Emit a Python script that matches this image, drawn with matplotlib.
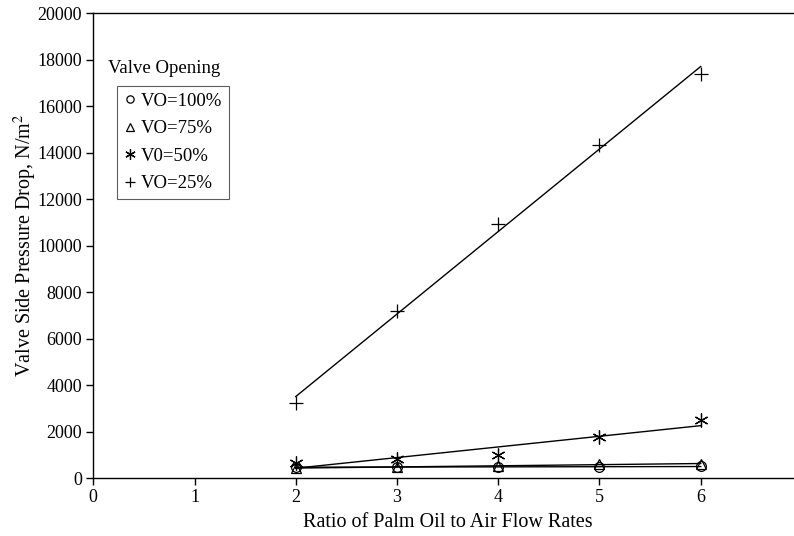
import matplotlib.pyplot as plt
import numpy as np

# Valve side pressure drop (N/m^2) against palm oil / air flow rate ratio
ratio = [2, 3, 4, 5, 6]
vo_100 = [470, 480, 480, 490, 500]
vo_75 = [430, 480, 530, 590, 620]
vo_50 = [650, 830, 1000, 1750, 2480]
vo_25 = [3215, 7190, 10930, 14330, 17400]

labels = ['VO=100%', 'VO=75%', 'V0=50%', 'VO=25%']
markers = ['o', '^', (6, 2, 0), '+']
sizes = [7, 7, 10, 10]

plt.rcParams['font.family'] = ['Liberation Serif', 'DejaVu Serif']
plt.rcParams['mathtext.fontset'] = 'stix'
plt.rcParams['font.size'] = 13

fig = plt.figure(figsize=(7.94, 5.36), dpi=100)
ax = fig.add_axes([0.1175, 0.108, 0.8925, 0.867])

series = [vo_100, vo_75, vo_50, vo_25]
x = np.array(ratio, dtype=float)
handles = []
for vals, mk, ms, lab in zip(series, markers, sizes, labels):
    # linear trend line through each series
    k, b = np.polyfit(x, vals, 1)
    ax.plot(x, k * x + b, color='black', lw=1.0, zorder=2)
    h, = ax.plot(x, vals, linestyle='none', marker=mk, ms=ms,
                 mfc='none', mec='black', mew=0.9, color='black',
                 label=lab, zorder=3)
    handles.append(h)

ax.set_xlim(0, 7)
ax.set_ylim(0, 20000)
ax.set_xticks(range(0, 8))
ax.set_yticks(range(0, 20001, 2000))
ax.tick_params(direction='out', length=5, width=1, pad=3, labelsize=13)
for s in ax.spines.values():
    s.set_linewidth(1.0)

ax.set_xlabel('Ratio of Palm Oil to Air Flow Rates', fontsize=14.5, labelpad=5)
ax.set_ylabel(r'Valve Side Pressure Drop, N/m$^2$', fontsize=14.5, labelpad=-1)

ax.text(0.15, 17650, 'Valve Opening', ha='left', va='center', fontsize=13.5)
leg = ax.legend(handles=handles, loc='upper left',
                bbox_to_anchor=(0.034, 0.843), frameon=True, fancybox=False,
                edgecolor='#333333', handlelength=0.6, handletextpad=0.3,
                borderpad=0.35, labelspacing=0.55, borderaxespad=0,
                markerscale=0.75, fontsize=13.5)
leg.get_frame().set_linewidth(0.8)

fig.savefig('out.png', dpi=100)
